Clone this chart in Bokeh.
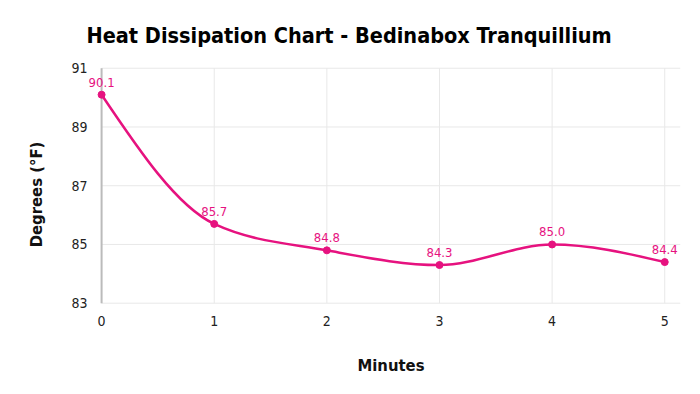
from bokeh.plotting import figure
from bokeh.models import Range1d, ColumnDataSource, FixedTicker, Label, LinearAxis
from bokeh.embed import file_html
from bokeh.resources import INLINE
import numpy as np

minutes = [0, 1, 2, 3, 4, 5]
degrees = [90.1, 85.7, 84.8, 84.3, 85.0, 84.4]
labels = ["90.1", "85.7", "84.8", "84.3", "85.0", "84.4"]
y_ticks = [83, 85, 87, 89, 91]
x_ticks = [0, 1, 2, 3, 4, 5]

PINK = "#e6127f"
FONT = "DejaVu Sans Condensed"
GRID = "#e8e8e8"
X_START, X_END = -0.72, 5.14
Y_MIN, Y_MAX = 83, 91
Y_START, Y_END = 80.3, 91.4

p = figure(width=696, height=390, output_backend="svg", toolbar_location=None,
           x_range=Range1d(X_START, X_END), y_range=Range1d(Y_START, Y_END),
           min_border_left=20, min_border_right=16, min_border_top=56, min_border_bottom=8)
p.outline_line_color = None

# title
p.title.text = "Heat Dissipation Chart - Bedinabox Tranquillium"
p.title.text_font = FONT
p.title.text_font_style = "bold"
p.title.text_font_size = "21.5px"
p.title.text_color = "#000000"
p.title.align = "left"
p.title.offset = 66
p.title.standoff = 18

# grid lines limited to the data area
p.xgrid.visible = False
p.ygrid.visible = False
p.segment(x0=[0] * len(y_ticks), x1=[X_END] * len(y_ticks), y0=y_ticks, y1=y_ticks,
          line_color=GRID, line_width=1)
p.segment(x0=x_ticks, x1=x_ticks, y0=[Y_MIN] * len(x_ticks), y1=[Y_MAX] * len(x_ticks),
          line_color=GRID, line_width=1)
# y axis rule
p.segment(x0=[0], x1=[0], y0=[Y_MIN], y1=[Y_MAX], line_color="#bbbbbb", line_width=2)

# monotone cubic path as bezier segments
x = np.array(minutes, dtype=float)
y = np.array(degrees, dtype=float)
h = np.diff(x)
s = np.diff(y) / h
n = len(x)
m = np.zeros(n)
for i in range(1, n - 1):
    s0, s1 = s[i - 1], s[i]
    pp = (s0 * h[i] + s1 * h[i - 1]) / (h[i - 1] + h[i])
    m[i] = (np.sign(s0) + np.sign(s1)) * min(abs(s0), abs(s1), 0.5 * abs(pp))
m[0] = (3 * s[0] - m[1]) / 2
m[-1] = (3 * s[-1] - m[-2]) / 2
seg = ColumnDataSource(dict(
    x0=x[:-1], y0=y[:-1], x1=x[1:], y1=y[1:],
    cx0=x[:-1] + h / 3, cy0=y[:-1] + m[:-1] * h / 3,
    cx1=x[1:] - h / 3, cy1=y[1:] - m[1:] * h / 3,
))
p.bezier(x0="x0", y0="y0", x1="x1", y1="y1", cx0="cx0", cy0="cy0", cx1="cx1", cy1="cy1",
         source=seg, line_color=PINK, line_width=2.5)

src = ColumnDataSource(dict(x=minutes, y=degrees, t=labels))
p.scatter("x", "y", source=src, size=7, color=PINK)
for xv, yv, t in zip(minutes, degrees, labels):
    p.add_layout(Label(x=xv, y=yv, text=t, y_offset=8, text_align="center",
                       text_baseline="bottom", text_font=FONT, level="overlay",
                       text_font_size="13px", text_color=PINK))

# axes (fixed inside the frame)
xax = p.xaxis[0]
yax = p.yaxis[0]
xax.ticker = FixedTicker(ticks=x_ticks)
xax.fixed_location = Y_MIN
xax.bounds = (0, X_END)
yax.ticker = FixedTicker(ticks=y_ticks)
yax.fixed_location = 0

ylab = LinearAxis(fixed_location=0, bounds=(83, 90.4), ticker=FixedTicker(ticks=y_ticks))
p.add_layout(ylab, "left")

for ax in (xax, yax, ylab):
    ax.major_tick_line_color = None
    ax.minor_tick_line_color = None
    ax.axis_line_color = None
    ax.major_label_text_font = FONT
    ax.major_label_text_font_size = "14px"
    ax.major_label_text_color = "#222222"
    ax.major_label_standoff = 8
    ax.axis_label_text_font = FONT
    ax.axis_label_text_font_style = "bold"
    ax.axis_label_text_font_size = "16.5px"
    ax.axis_label_text_color = "#111111"
ylab.major_label_text_color = None
xax.axis_label = "Minutes"
ylab.axis_label = "Degrees (°F)"
xax.major_label_standoff = 7
xax.axis_label_standoff = 26
ylab.axis_label_standoff = 50

open("out.html", "w").write(file_html(p, INLINE))
